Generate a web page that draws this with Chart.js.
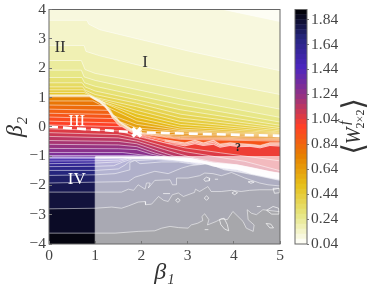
<!DOCTYPE html>
<html>
<head>
<meta charset="utf-8">
<title>Wilson loop phase diagram</title>
<script src="https://cdn.jsdelivr.net/npm/chart.js@4"></script>
<style>
  html, body { margin: 0; padding: 0; background: #fff; }
  #wrap { position: relative; width: 374px; height: 288px; }
  canvas { position: absolute; top: 0; }
  #phaseChart { left: 0; }
  #barChart { left: 280px; }
</style>
</head>
<body>
<div id="wrap">
  <canvas id="phaseChart" width="374" height="288"></canvas>
  <canvas id="barChart" width="94" height="288"></canvas>
</div>
<script>
/* =======================
   DATA
   each contour: [beta1, beta2] points, name = level * 100
======================= */

const cTop = [[0, 5], [5, 5]];
const c08 = [[0, 5], [3.77, 4], [5, 3.59]];
const c12 = [[0, 3.63], [.82, 3.63], [.86, 3.5], [1.1, 3.31], [3.05, 2.57], [5, 1.91]];
const c16 = [[0, 2.77], [.76, 2.77], [.8, 2.57], [1.1, 2.42], [2.84, 1.76], [5, 1.1]];
const c20 = [[0, 2.26], [.7, 2.26], [.78, 1.95], [1, 1.82], [2.84, 1.26], [5, .6]];
const c24 = [[0, 1.93], [.7, 1.93], [.76, 1.7], [1, 1.58], [2.84, .95], [5, .32]];
const c28 = [[0, 1.68], [.71, 1.68], [.77, 1.5], [1, 1.38], [2.84, .75], [5, .16]];
const c32 = [[0, 1.5], [.72, 1.5], [.78, 1.36], [1, 1.22], [1.9, .92], [2.84, .58], [5, .05]];
const c36 = [[0, 1.36], [.73, 1.36], [.78, 1.25], [1, 1.1], [1.9, .8], [2.84, .43], [5, -.03]];
const c40 = [[0, 1.26], [.74, 1.26], [.8, 1.18], [1, 1], [1.9, .68], [2.84, .3], [5, -.09]];
const c44 = [[0, 1.17], [.76, 1.17], [.82, 1.12], [1, .97], [1.9, .56], [2.84, .18], [5, -.14]];
const c48 = [[0, 1.09], [.78, 1.09], [.84, 1.07], [1, .94], [1.9, .44], [2.84, .08], [5, -.18]];
const c52 = [[0, 1.07], [.86, 1.07], [1.1, .88], [1.9, .32], [2.84, -.01], [5, -.21]];
const c56 = [[0, 1.06], [.87, 1.06], [1.1, .87], [1.25, .68], [1.9, .2], [2.84, -.08], [5, -.24]];
const c60 = [[0, 1.05], [.88, 1.05], [1.1, .86], [1.25, .66], [1.39, .38], [1.9, .08], [2.84, -.13], [5, -.27]];
const c64 = [[0, 1.04], [.88, 1.04], [1.1, .85], [1.25, .65], [1.39, .36], [1.54, .17], [1.9, -.04], [2.84, -.17], [5, -.3]];
const c68 = [[0, 1.03], [.89, 1.03], [1.1, .84], [1.25, .63], [1.39, .34], [1.54, .15], [1.7, -.03], [1.9, -.12], [2.84, -.22], [5, -.33]];
const c72 = [[0, 1.02], [.89, 1.02], [1.1, .82], [1.25, .61], [1.39, .32], [1.54, .13], [1.79, -.12], [1.9, -.19], [2.84, -.28], [5, -.36]];
const c76 = [[0, .88], [.95, .88], [1.1, .76], [1.25, .58], [1.39, .3], [1.54, .1], [1.79, -.13], [1.9, -.2], [2.84, -.33], [5, -.4]];
const c80 = [[0, .74], [1.2, .72], [1.28, .55], [1.39, .28], [1.54, .08], [1.79, -.14], [1.9, -.21], [2.84, -.37], [5, -.43]];
const c84 = [[0, .6], [1.28, .56], [1.39, .26], [1.54, .06], [1.79, -.15], [1.9, -.22], [2.84, -.4], [5, -.46]];
const c88 = [[0, .46], [1.33, .42], [1.39, .24], [1.54, .04], [1.79, -.16], [1.9, -.23], [2.84, -.43], [5, -.49]];
const c92 = [[0, .33], [1.38, .28], [1.54, .02], [1.79, -.17], [1.9, -.24], [2.5, -.44], [2.94, -.56], [3.16, -.47], [3.34, -.56], [3.56, -.47], [3.7, -.61], [3.92, -.56], [4.13, -.59], [4.35, -.61], [4.57, -.65], [4.78, -.56], [5, -.56]];
const c96 = [[0, .19], [1.45, .13], [1.56, -.01], [1.79, -.18], [1.9, -.26], [2.5, -.48], [2.94, -.6], [3.16, -.52], [3.34, -.6], [3.56, -.53], [3.7, -.65], [3.92, -.6], [4.13, -.63], [4.35, -.64], [4.57, -.68], [4.78, -.6], [5, -.6]];
const c100 = [[0, .06], [1.58, 0], [1.79, -.2], [1.9, -.28], [2.5, -.55], [2.94, -.65], [3.16, -.58], [3.34, -.64], [3.56, -.6], [3.7, -.7], [3.92, -.64], [4.13, -.68], [4.35, -.67], [4.57, -.72], [4.78, -.64], [5, -.66]];
const c104 = [[0, -.07], [1.5, -.14], [1.9, -.32], [2.94, -.72], [3.72, -.89], [4.98, -1.16]];
const c108 = [[0, -.2], [1.5, -.27], [1.9, -.4], [2.6, -.72], [2.95, -.85], [3.6, -1.02], [4.24, -1.18], [5, -1.5]];
const c112 = [[0, -.33], [1.5, -.38], [1.9, -.49], [2.5, -.78], [2.8, -.92], [3.05, -1.03], [3.55, -1.2], [4.07, -1.3], [4.78, -1.53], [5, -1.6]];
const c116 = [[0, -.47], [1.5, -.5], [1.9, -.58], [2.4, -.85], [2.7, -1], [3.05, -1.08], [3.55, -1.24], [4.07, -1.33], [4.78, -1.56], [5, -1.63]];
const c120 = [[0, -.6], [1.5, -.62], [1.9, -.68], [2.3, -.9], [2.6, -1.03], [3.05, -1.1], [3.55, -1.26], [4.07, -1.36], [4.78, -1.6], [5, -1.66]];
const c124 = [[0, -.74], [1.5, -.75], [1.9, -.78], [2.2, -.93], [2.5, -1.04], [3.05, -1.12], [3.55, -1.28], [4.07, -1.38], [4.78, -1.62], [5, -1.68]];
const c128 = [[0, -.88], [1.6, -.88], [2.1, -.98], [2.4, -1.04], [3.05, -1.14], [3.55, -1.3], [4.07, -1.4], [4.78, -1.64], [5, -1.7]];
const c132 = [[0, -.98], [1.8, -.98], [2.2, -1.02], [2.4, -1.05], [3.05, -1.15], [3.55, -1.31], [4.07, -1.41], [4.78, -1.65], [5, -1.72]];
const c136 = [[0, -1.03], [2.3, -1.04], [2.6, -1.08], [3.05, -1.16], [3.55, -1.32], [4.07, -1.42], [4.78, -1.66], [5, -1.73]];
const c140 = [[0, -1.04], [2.3, -1.05], [2.6, -1.09], [3.05, -1.17], [3.55, -1.33], [4.07, -1.43], [4.78, -1.68], [5, -1.74]];
const c144 = [[0, -1.05], [2.3, -1.06], [2.6, -1.1], [3.05, -1.18], [3.55, -1.34], [4.07, -1.44], [4.78, -1.69], [5, -1.75]];
const c148 = [[0, -1.09], [1, -1.09], [1.6, -1.07], [2.3, -1.07], [2.6, -1.11], [3.05, -1.18], [3.55, -1.35], [4.07, -1.45], [4.78, -1.7], [5, -1.76]];
const c152 = [[0, -1.17], [1, -1.16], [1.5, -1.14], [1.7, -1.08], [2.3, -1.08], [2.6, -1.12], [3.05, -1.19], [3.55, -1.36], [4.07, -1.46], [4.78, -1.71], [5, -1.77]];
const c156 = [[0, -1.26], [1, -1.24], [1.5, -1.2], [1.7, -1.1], [2.3, -1.09], [2.62, -1.13], [3.05, -1.2], [3.55, -1.37], [4.07, -1.47], [4.78, -1.72], [5, -1.78]];
const c160 = [[0, -1.36], [1, -1.35], [1.4, -1.33], [1.6, -1.2], [1.8, -1.1], [2.36, -1.1], [2.8, -1.15], [3.05, -1.21], [3.55, -1.38], [4.07, -1.48], [4.78, -1.74], [5, -1.8]];
const c164 = [[0, -1.49], [1, -1.49], [1.5, -1.44], [1.65, -1.3], [1.75, -1.17], [2.3, -1.12], [2.8, -1.17], [3.05, -1.23], [3.55, -1.4], [4.07, -1.5], [4.78, -1.75], [5, -1.81]];
const c168 = [[0, -1.66], [1, -1.64], [1.43, -1.6], [1.75, -1.47], [1.75, -1.22], [1.86, -1.15], [1.97, -1.26], [2.44, -1.2], [2.8, -1.2], [3.05, -1.26], [3.55, -1.42], [4.07, -1.52], [4.78, -1.77], [5, -1.82]];
const c172 = [[0, -1.92], [1, -1.89], [1.72, -1.87], [1.86, -1.72], [2.29, -1.52], [2.58, -1.6], [2.87, -1.41], [3.05, -1.33], [3.44, -1.26], [3.8, -1.47], [4.09, -1.54], [4.45, -1.65], [5, -1.83]];
const c176 = [[0, -2.23], [1, -2.23], [1.57, -2.23], [1.72, -2.13], [1.83, -2.17], [1.93, -1.98], [2.08, -2.13], [2.11, -1.92], [2.19, -1.92], [2.15, -2.09], [2.29, -1.83], [2.62, -1.81], [2.67, -1.98], [2.76, -1.98], [2.76, -1.75], [3.01, -1.75], [3.26, -1.67], [3.37, -1.58], [3.55, -1.6], [3.73, -1.67], [3.95, -1.56], [4.24, -1.75], [4.56, -1.92], [4.74, -1.98], [5, -2.02]];
const c180 = [[0, -2.8], [1, -2.78], [1.36, -2.74], [1.57, -2.78], [1.72, -2.7], [1.93, -2.57], [2.08, -2.55], [2.09, -2.66], [2.22, -2.64], [2.37, -2.38], [2.48, -2.51], [2.58, -2.55], [2.67, -2.32], [2.8, -2.26], [2.91, -2.38], [3.01, -2.32], [3.15, -2.24], [3.17, -2.13], [3.26, -2.21], [3.44, -2.04], [3.51, -2.21], [3.73, -2.21], [3.95, -2.17], [4.16, -2.21], [4.34, -2.17], [4.56, -2.15], [4.85, -2.15], [5, -2.09]];
const c184 = [[0, -3.63], [1, -3.63], [1.43, -3.63], [1.93, -3.57], [2.29, -3.55], [2.44, -3.46], [2.62, -3.4], [2.8, -3.44], [3.01, -3.46], [3.08, -3.35], [3.22, -3.29], [3.33, -3.2], [3.31, -3.06], [3.37, -2.97], [3.46, -3.17], [3.43, -3.35], [3.62, -3.23], [3.73, -3.14], [3.86, -3.17], [3.98, -2.89], [4.09, -3.06], [4.2, -3.23], [4.27, -3.46], [4.42, -3.57], [4.44, -3.35], [4.31, -3.17], [4.29, -2.83], [4.38, -2.95], [4.49, -3], [4.63, -2.83], [5, -2.9]];

const contourLevels = [.04, .08, .12, .16, .2, .24, .28, .32, .36, .4, .44, .48, .52, .56, .6, .64, .68, .72, .76, .8, .84, .88, .92, .96, 1, 1.04, 1.08, 1.12, 1.16, 1.2, 1.24, 1.28, 1.32, 1.36, 1.4, 1.44, 1.48, 1.52, 1.56, 1.6, 1.64, 1.68, 1.72, 1.76, 1.8, 1.84];
const contourLines = [cTop, c08, c12, c16, c20, c24, c28, c32, c36, c40, c44, c48, c52, c56, c60, c64, c68, c72, c76, c80, c84, c88, c92, c96, c100, c104, c108, c112, c116, c120, c124, c128, c132, c136, c140, c144, c148, c152, c156, c160, c164, c168, c172, c176, c180, c184];

// small closed contours in the noisy part
const islands = [
  [[3.69, -3.17], [3.79, -3.12], [3.86, -3.34], [3.89, -3.55], [3.8, -3.49], [3.72, -3.34], [3.69, -3.17]],
  [[3.36, -2.43], [3.41, -2.36], [3.46, -2.43], [3.41, -2.51], [3.36, -2.43]],
  [[3.35, -1.79], [3.41, -1.72], [3.48, -1.76], [3.47, -1.84], [3.38, -1.86], [3.35, -1.79]],
  [[3.96, -2.26], [4.02, -2.2], [4.08, -2.25], [4.02, -2.32], [3.96, -2.26]],
  [[4.31, -1.88], [4.37, -1.86], [4.44, -1.89], [4.37, -1.93], [4.31, -1.88]],
  [[4.85, -2.1], [4.98, -2.1], [4.99, -2.25], [4.88, -2.27], [4.85, -2.1]],
  [[4.7, -3.3], [4.8, -3.32], [4.86, -3.45], [4.78, -3.45], [4.7, -3.3]],
  [[4.71, -2.85], [4.85, -2.72], [4.97, -2.78], [4.98, -2.98], [4.82, -2.98], [4.71, -2.85]],
  [[2.74, -2.51], [2.79, -2.44], [2.84, -2.51], [2.79, -2.58], [2.74, -2.51]],
  [[2.47, -2.28], [2.62, -2.28]],
  [[3.59, -1.79], [3.66, -1.79]],
  [[3.37, -3.51], [3.45, -3.51]],
  [[4.5, -2.72], [4.58, -2.72]]
];

// jumps where the lines pile up
const upperJump = [[.88, 1.07], [1.1, .91], [1.2, .82], [1.25, .71], [1.32, .6], [1.39, .42], [1.46, .32], [1.54, .17], [1.68, .05], [1.79, -.08], [1.88, -.17], [1.79, -.12], [1.54, .12], [1.39, .33], [1.25, .6], [1.1, .83], [.88, 1.02]];
const middleJump = [[2.5, -.44], [2.94, -.54], [3.16, -.45], [3.34, -.54], [3.56, -.45], [3.7, -.58], [3.92, -.54], [4.13, -.57], [4.35, -.59], [4.57, -.63], [4.78, -.54], [5, -.54], [5, -.66], [4.78, -.64], [4.57, -.72], [4.35, -.67], [4.13, -.68], [3.92, -.64], [3.7, -.7], [3.56, -.6], [3.34, -.64], [3.16, -.58], [2.94, -.65], [2.5, -.5]];
const lowerJump = [[1, -1.04], [2.3, -1.03], [2.5, -1.02], [2.62, -1.05], [3.05, -1.07], [3.3, -1.15], [3.55, -1.23], [4.07, -1.3], [4.4, -1.4], [4.78, -1.53], [5, -1.58], [5, -1.8], [4.78, -1.74], [4.55, -1.66], [4.4, -1.62], [4.07, -1.47], [3.8, -1.42], [3.55, -1.36], [3.3, -1.24], [3.05, -1.2], [2.62, -1.13], [2.4, -1.09], [1, -1.06]];

const maskEdge = [[1, -1], [5, -1]];
const maskLeft = [[1, -4], [1, -1.03]];

const dashedLine = [[0, 0], [1.9, -.19], [5, -.31]];
const triplePoint = [[1.9, -.19]];

const regionLabels = ["I", "II", "III", "IV", "?"];
const regionX = [2.08, .24, .6, .6, 4.09];
const regionY = [2.2, 2.7, .18, -1.81, -.72];
const regionColors = ["#333", "#333", "#fff", "#fff", "#222"];

const xTicks = [0, 1, 2, 3, 4, 5];
const yTicks = [-4, -3, -2, -1, 0, 1, 2, 3, 4];
const cbarTicks = [.04, .24, .44, .64, .84, 1.04, 1.24, 1.44, 1.64, 1.84];
const cbarMin = .04;
const cbarMax = 1.92;
const cbarStep = .04;

/* =======================
   COLOURS
======================= */

// CMRmap reversed: white, yellow, orange, red, purple, blue, black
const cmapStops = [
  [1, 1, 1], [.9, .9, .5], [.9, .75, .1], [.9, .5, 0], [1, .25, .15],
  [.6, .2, .5], [.3, .15, .75], [.15, .15, .5], [0, 0, 0]
];

function bandColor(w) {
  const t = Math.min(1, Math.max(0, (w - cbarMin) / (cbarMax - cbarMin))) * 8;
  const i = Math.min(7, Math.floor(t));
  const f = t - i;
  const rgb = cmapStops[i].map((c, k) => Math.round(255 * (c + (cmapStops[i + 1][k] - c) * f)));
  return `rgb(${rgb[0]},${rgb[1]},${rgb[2]})`;
}

const toXY = pts => pts.map(p => ({ x: p[0], y: p[1] }));
const serif = '"Liberation Serif", "DejaVu Serif", serif';

// tick labels may hang over the plot edges, the plot box itself stays fixed
const noPadding = s => {
  s.paddingTop = 0;
  s.paddingBottom = 0;
  s.paddingLeft = 0;
  s.paddingRight = 0;
};

/* =======================
   PHASE DIAGRAM
======================= */

const datasets = [];

contourLevels.forEach((level, i) => {
  // the blue side reads a bit darker than its level in the picture
  const shade = level >= 1.48 ? level + .05 : level + .02;
  datasets.push({
    data: toXY(contourLines[i]),
    borderColor: "rgba(255,255,255,0.75)",
    borderWidth: .7,
    backgroundColor: bandColor(shade),
    fill: "start",
    pointRadius: 0,
    tension: 0
  });
});

// pale mask on beta1 > 1, beta2 < -1
datasets.push({ data: toXY(maskEdge), borderWidth: 0, backgroundColor: "rgba(255,255,255,0.65)", fill: "start", pointRadius: 0 });
datasets.push({ data: toXY(maskLeft), borderColor: "rgba(255,255,255,0.5)", borderWidth: 1, fill: false, pointRadius: 0 });

datasets.push({ data: toXY(upperJump), borderColor: "rgba(255,255,255,0.6)", borderWidth: .5, backgroundColor: "rgba(255,255,255,0.6)", fill: "shape", pointRadius: 0 });
datasets.push({ data: toXY(middleJump), borderColor: "rgba(255,255,255,0.55)", borderWidth: .5, backgroundColor: "rgba(255,255,255,0.4)", fill: "shape", pointRadius: 0 });
datasets.push({ data: toXY(lowerJump), borderColor: "rgba(255,255,255,0.9)", borderWidth: .6, backgroundColor: "rgba(255,255,255,0.9)", fill: "shape", pointRadius: 0 });

islands.forEach(pts => {
  datasets.push({ data: toXY(pts), borderColor: "rgba(255,255,255,0.85)", borderWidth: .8, fill: false, pointRadius: 0 });
});

datasets.push({ data: toXY(dashedLine), borderColor: "#fff", borderWidth: 2.6, borderDash: [9, 5], fill: false, pointRadius: 0 });
datasets.push({ data: toXY(triplePoint), showLine: false, pointStyle: "crossRot", pointRadius: 6, pointBorderColor: "#fff", pointBorderWidth: 3.5 });

// first one painted must sit at the back
datasets.forEach((d, i) => { d.order = datasets.length - i; });

const frameAndLabels = {
  id: "frameAndLabels",
  afterDatasetsDraw(chart) {
    const { ctx, chartArea, scales } = chart;
    ctx.save();
    ctx.strokeStyle = "#666";
    ctx.lineWidth = 1;
    ctx.strokeRect(chartArea.left, chartArea.top, chartArea.width, chartArea.height);
    ctx.textAlign = "center";
    ctx.textBaseline = "middle";
    regionLabels.forEach((label, i) => {
      ctx.font = label === "?" ? `bold 12px ${serif}` : `17px ${serif}`;
      ctx.fillStyle = regionColors[i];
      ctx.fillText(label, scales.x.getPixelForValue(regionX[i]), scales.y.getPixelForValue(regionY[i]));
    });
    ctx.restore();
  }
};

new Chart(document.getElementById("phaseChart"), {
  type: "line",
  data: { datasets },
  plugins: [frameAndLabels],
  options: {
    responsive: false,
    animation: false,
    parsing: false,
    normalized: false,
    layout: { padding: { top: 9.5, right: 94 } },
    plugins: { legend: { display: false }, tooltip: { enabled: false } },
    scales: {
      x: {
        type: "linear",
        min: 0,
        max: 5,
        afterBuildTicks: s => { s.ticks = xTicks.map(v => ({ value: v })); },
        afterFit: s => { s.height = 44; noPadding(s); },
        grid: { drawOnChartArea: false, tickLength: -3, color: "#777", z: 1 },
        border: { display: false },
        ticks: { color: "#444", padding: 6, font: { family: serif, size: 15.5 }, maxRotation: 0 },
        title: { display: true, text: "β₁", color: "#333", padding: 1, font: { family: serif, size: 24, style: "italic" } }
      },
      y: {
        type: "linear",
        min: -4,
        max: 4,
        afterBuildTicks: s => { s.ticks = yTicks.map(v => ({ value: v })); },
        afterFit: s => { s.width = 49; noPadding(s); },
        grid: { drawOnChartArea: false, tickLength: -3, color: "#777", z: 1 },
        border: { display: false },
        ticks: {
          color: "#444",
          padding: 6,
          font: { family: serif, size: 15.5 },
          callback: v => String(v).replace("-", "\u2212")
        },
        title: { display: true, text: "β₂", color: "#333", padding: 1, font: { family: serif, size: 24, style: "italic" } }
      }
    }
  }
});

/* =======================
   COLORBAR
======================= */

const barDatasets = [];
for (let k = 0; cbarMin + k * cbarStep < cbarMax - .001; k++) {
  const lo = cbarMin + k * cbarStep;
  barDatasets.push({
    data: [[lo, Math.min(cbarMax, lo + cbarStep)]],
    backgroundColor: bandColor(lo + cbarStep / 2),
    borderWidth: 0,
    barPercentage: 1,
    categoryPercentage: 1
  });
}

// rotated label <W^f_2x2>, positions given inside the small canvas
const barLabel = {
  id: "barLabel",
  afterDraw(chart) {
    const { ctx, chartArea } = chart;
    ctx.save();
    ctx.strokeStyle = "#666";
    ctx.lineWidth = 1;
    ctx.strokeRect(chartArea.left, chartArea.top, chartArea.width, chartArea.height);
    const put = (text, x, y, font) => {
      ctx.save();
      ctx.translate(x, y);
      ctx.rotate(-Math.PI / 2);
      ctx.font = font;
      ctx.fillStyle = "#333";
      ctx.textAlign = "center";
      ctx.textBaseline = "middle";
      ctx.fillText(text, 0, 0);
      ctx.restore();
    };
    put("\u27E8", 75, 149, '30px "DejaVu Sans"');
    put("W", 75, 136, `italic 20px ${serif}`);
    put("f", 65, 123, `italic 15px ${serif}`);
    put("2×2", 81, 119, `12px ${serif}`);
    put("\u27E9", 75, 104, '30px "DejaVu Sans"');
    ctx.restore();
  }
};

new Chart(document.getElementById("barChart"), {
  type: "bar",
  data: { labels: [""], datasets: barDatasets },
  plugins: [barLabel],
  options: {
    responsive: false,
    animation: false,
    layout: { padding: { top: 9.5, bottom: 44, left: 15 } },
    plugins: { legend: { display: false }, tooltip: { enabled: false } },
    scales: {
      x: { stacked: true, display: false },
      y: {
        position: "right",
        min: cbarMin,
        max: cbarMax,
        afterBuildTicks: s => { s.ticks = cbarTicks.map(v => ({ value: v })); },
        afterFit: s => { s.width = 67; noPadding(s); },
        grid: { drawOnChartArea: false, tickLength: 2, color: "#777" },
        border: { display: false },
        ticks: {
          color: "#444",
          padding: 2,
          font: { family: serif, size: 15.5 },
          callback: v => Number(v).toFixed(2)
        }
      }
    }
  }
});
</script>
</body>
</html>
